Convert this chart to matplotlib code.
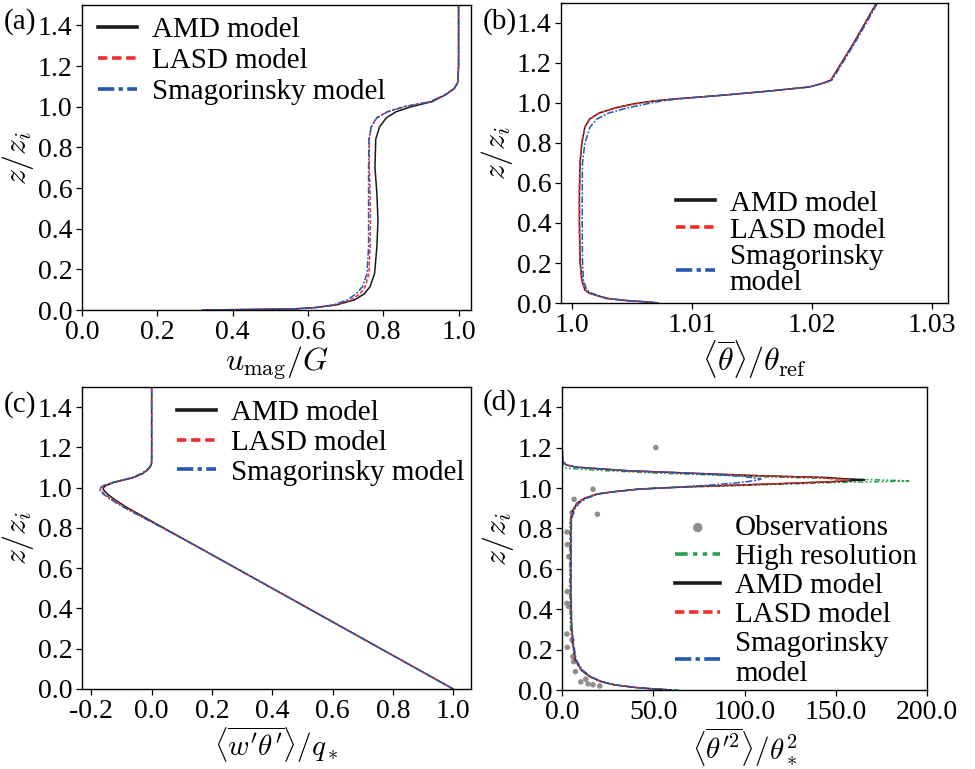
import matplotlib
matplotlib.use("Agg")
import matplotlib.pyplot as plt

plt.rcParams['font.family'] = ['Liberation Serif', 'DejaVu Serif']
plt.rcParams['mathtext.fontset'] = 'cm'

# ---------------- data ----------------
# (a) velocity magnitude
z_a = [0.0, 0.002, 0.004, 0.006, 0.012, 0.025, 0.05, 0.08, 0.115, 0.18, 0.31, 0.44, 0.575, 0.70,
       0.84, 0.90, 0.945, 0.975, 1.0, 1.025, 1.06, 1.09, 1.12, 1.2, 1.5]
u_amd = [0.32, 0.42, 0.50, 0.57, 0.62, 0.675, 0.724, 0.750, 0.765, 0.777, 0.783, 0.786, 0.783, 0.778,
         0.780, 0.790, 0.808, 0.834, 0.875, 0.930, 0.967, 0.989, 0.998, 1.0, 1.0]
u_lasd = [0.32, 0.42, 0.50, 0.57, 0.62, 0.672, 0.715, 0.738, 0.752, 0.762, 0.765, 0.766, 0.765, 0.763,
          0.763, 0.768, 0.782, 0.810, 0.855, 0.925, 0.965, 0.988, 0.998, 1.0, 1.0]
u_smag = [0.32, 0.42, 0.50, 0.57, 0.62, 0.668, 0.705, 0.728, 0.745, 0.757, 0.761, 0.761, 0.761, 0.761,
          0.762, 0.768, 0.783, 0.812, 0.857, 0.926, 0.966, 0.989, 0.998, 1.0, 1.0]

# (b) mean potential temperature
z_b = [0.0, 0.004, 0.012, 0.023, 0.048, 0.065, 0.115, 0.21, 0.40, 0.55, 0.70, 0.80, 0.88, 0.92,
       0.95, 0.975, 0.99, 1.0, 1.01, 1.02, 1.04, 1.06, 1.08, 1.10, 1.115, 1.3, 1.5, 1.6]
th_amd = [1.0072, 1.0066, 1.0046, 1.0029, 1.0015, 1.0011, 1.00085, 1.0007, 1.00065, 1.00065, 1.0007,
          1.00085, 1.0011, 1.0015, 1.0023, 1.0036, 1.0047, 1.0056, 1.0068, 1.0085, 1.0128, 1.0165,
          1.0198, 1.0210, 1.0216, 1.0235, 1.0254, 1.0263]
th_lasd = [1.0072, 1.0066, 1.0046, 1.0029, 1.0015, 1.0011, 1.00083, 1.00068, 1.00063, 1.00063, 1.00068,
           1.00083, 1.0011, 1.0015, 1.0023, 1.0037, 1.0048, 1.0057, 1.0069, 1.0086, 1.0128, 1.0165,
           1.0198, 1.0210, 1.0216, 1.0235, 1.0254, 1.0263]
th_smag = [1.0072, 1.0066, 1.0046, 1.0030, 1.0017, 1.00125, 1.00098, 1.0009, 1.00088, 1.00088, 1.0009,
           1.0011, 1.00153, 1.0021, 1.0031, 1.0046, 1.0058, 1.0066, 1.0075, 1.0088, 1.0128, 1.0165,
           1.0197, 1.0211, 1.0217, 1.0236, 1.0255, 1.0264]

# (c) heat flux
z_c = [0.0, 0.1, 0.2, 0.3, 0.4, 0.5, 0.6, 0.7, 0.8, 0.85, 0.9, 0.94, 0.97, 0.99, 1.0, 1.01, 1.025,
       1.05, 1.07, 1.085, 1.1, 1.115, 1.13, 1.5]
wt_amd = [1.0, 0.88, 0.76, 0.64, 0.52, 0.40, 0.28, 0.16, 0.04, -0.02, -0.08, -0.122, -0.148, -0.16,
          -0.16, -0.152, -0.127, -0.06, -0.03, -0.016, -0.006, -0.001, 0.0, 0.0]
wt_lasd = [1.0, 0.88, 0.76, 0.64, 0.52, 0.40, 0.28, 0.16, 0.038, -0.024, -0.085, -0.13, -0.158, -0.17,
           -0.168, -0.158, -0.13, -0.062, -0.032, -0.017, -0.007, -0.001, 0.0, 0.0]
wt_smag = [1.0, 0.88, 0.76, 0.64, 0.52, 0.40, 0.28, 0.16, 0.036, -0.027, -0.09, -0.135, -0.162, -0.172,
           -0.17, -0.16, -0.133, -0.066, -0.035, -0.019, -0.008, -0.002, 0.0, 0.0]

# (d) temperature variance
z_d = [0.0, 0.005, 0.011, 0.025, 0.041, 0.066, 0.099, 0.149, 0.231, 0.314, 0.50, 0.66, 0.84, 0.89,
       0.925, 0.949, 0.971, 0.982, 0.994, 1.0, 1.007, 1.015, 1.024, 1.032, 1.038, 1.041, 1.045, 1.052,
       1.061, 1.073, 1.086, 1.103, 1.114, 1.131, 1.2, 1.5]
tv_amd = [60, 50.8, 41.7, 28.9, 21.6, 15.2, 10.6, 7.3, 6.0, 5.2, 4.8, 4.8, 4.9, 6.0, 8.4, 12.4, 19.7,
          28.9, 41.7, 55, 72, 98, 127, 150, 163, 166, 156, 145, 108, 72, 35, 8, 2.4, 0.4, 0.1, 0.0]
tv_lasd = [60, 50.8, 41.7, 28.9, 21.6, 15.2, 10.6, 7.3, 5.8, 5.0, 4.6, 4.6, 4.7, 5.8, 8.2, 12.2, 19.5,
           28.7, 41.5, 55, 72, 98, 127, 148, 155, 157, 150, 140, 106, 71, 35, 8, 2.4, 0.4, 0.1, 0.0]
tv_smag = [60, 50.8, 41.7, 29.5, 22, 15.8, 11.2, 7.8, 6.3, 5.4, 5.0, 5.0, 5.2, 6.6, 9.3, 13.5, 20.5,
           29.5, 42, 54, 68, 82, 94, 102, 106, 108, 109, 104, 95, 70, 35, 8, 2.4, 0.4, 0.1, 0.0]
z_hr = [0.0, 0.005, 0.011, 0.025, 0.041, 0.066, 0.099, 0.149, 0.231, 0.314, 0.50, 0.66, 0.84, 0.89,
        0.925, 0.949, 0.971, 0.982, 0.994, 1.0, 1.010, 1.018, 1.026, 1.031, 1.034, 1.037, 1.043, 1.056,
        1.073, 1.085, 1.093, 1.098, 1.11, 1.13, 1.2, 1.5]
tv_hr = [64, 52, 42, 29, 21.6, 15, 10.3, 7.0, 5.6, 4.6, 4.2, 4.2, 4.4, 5.6, 8.0, 12.2, 19.5, 28.5, 41,
         50, 90, 120, 145, 172, 190, 185, 163, 108, 54, 25, 10, 2.4, 0.8, 0.2, 0.1, 0.0]
obs_tv = [51.4, 17.0, 19.4, 6.6, 5.5, 2.7, 2.9, 3.7, 2.9, 2.7, 3.7, 2.7, 2.9, 5.5, 6.0, 6.4, 7.3,
          10.3, 13.0, 14.3, 17.0, 20.7]
obs_z = [1.2, 0.994, 0.870, 0.944, 0.878, 0.782, 0.72, 0.66, 0.487, 0.429, 0.413, 0.277, 0.211, 0.248,
         0.165, 0.14, 0.091, 0.04, 0.053, 0.030, 0.026, 0.020]

yticks = [0.0, 0.2, 0.4, 0.6, 0.8, 1.0, 1.2, 1.4]
ytick_labels = ['0.0', '0.2', '0.4', '0.6', '0.8', '1.0', '1.2', '1.4']
xticks_a = [0.0, 0.2, 0.4, 0.6, 0.8, 1.0]
xlabels_a = ['0.0', '0.2', '0.4', '0.6', '0.8', '1.0']
xticks_b = [1.0, 1.01, 1.02, 1.03]
xlabels_b = ['1.0', '1.01', '1.02', '1.03']
xticks_c = [-0.2, 0.0, 0.2, 0.4, 0.6, 0.8, 1.0]
xlabels_c = ['-0.2', '0.0', '0.2', '0.4', '0.6', '0.8', '1.0']
xticks_d = [0, 50, 100, 150, 200]
xlabels_d = ['0.0', '50.0', '100.0', '150.0', '200.0']

names = ['AMD model', 'LASD model', 'Smagorinsky model']
names_wrap = ['AMD model', 'LASD model', 'Smagorinsky\nmodel']

# ---------------- styles ----------------
C_AMD, C_LASD, C_SMAG, C_HR, C_OBS = '#1a1a1a', '#f22c2c', '#2457b0', '#25a050', '#8e8e8e'
LW = 1.1
TICK_FS, LAB_FS, LAB_FS2, LEG_FS = 20, 23, 21, 21

W, H = 975, 769
fig = plt.figure(figsize=(W / 100, H / 100), dpi=100)

def add_ax(l, r, t, b):
    return fig.add_axes([l / W, 1 - b / H, (r - l) / W, (b - t) / H])

axa = add_ax(82, 471, 5, 310)
axb = add_ax(561, 948, 3, 303)
axc = add_ax(82, 471, 387, 689)
axd = add_ax(562, 927, 387, 690)

def draw3(ax, z, a, l, s):
    ax.plot(a, z, color=C_AMD, lw=LW, ls='-', label='AMD')
    ax.plot(l, z, color=C_LASD, lw=LW, ls=(0, (2.6, 1.3)), label='LASD')
    ax.plot(s, z, color=C_SMAG, lw=LW, ls=(0, (4.5, 1.2, 1.2, 1.2)), label='Smag')

draw3(axa, z_a, u_amd, u_lasd, u_smag)
draw3(axb, z_b, th_amd, th_lasd, th_smag)
draw3(axc, z_c, wt_amd, wt_lasd, wt_smag)
obs = axd.scatter(obs_tv, obs_z, s=16, color=C_OBS, edgecolors='none', zorder=1)
hr, = axd.plot(tv_hr, z_hr, color=C_HR, lw=LW, ls=(0, (3.5, 1.5, 1.2, 1.5, 1.2, 1.5)))
draw3(axd, z_d, tv_amd, tv_lasd, tv_smag)

for ax in (axa, axb, axc, axd):
    ax.set_ylim(0, 1.5)
    ax.set_yticks(yticks)
    ax.set_yticklabels(ytick_labels)
    ax.tick_params(labelsize=TICK_FS, length=4.5, width=0.9, pad=2.5)
    ax.set_ylabel(r'$z/z_i$', fontsize=LAB_FS, labelpad=1)
    for sp in ax.spines.values():
        sp.set_linewidth(1.0)

axa.set_xlim(0, 1.033)
axa.set_xticks(xticks_a); axa.set_xticklabels(xlabels_a)
axa.set_xlabel(r'$u_{\mathrm{mag}}/G$', fontsize=LAB_FS, labelpad=0)
axb.set_xlim(0.99911, 1.03136)
axb.set_xticks(xticks_b); axb.set_xticklabels(xlabels_b)
axb.set_xlabel(r'$\langle\overline{\theta}\rangle/\theta_{\mathrm{ref}}$', fontsize=LAB_FS, labelpad=0)
axc.set_xlim(-0.231, 1.059)
axc.set_xticks(xticks_c); axc.set_xticklabels(xlabels_c)
axc.set_xlabel(r'$\langle\overline{w^\prime\theta^\prime}\rangle/q_*$', fontsize=LAB_FS2, labelpad=0.5)
axd.set_xlim(0, 200)
axd.set_xticks(xticks_d); axd.set_xticklabels(xlabels_d)
axd.set_xlabel(r'$\langle\overline{\theta^{\prime 2}}\rangle/\theta_*^2$', fontsize=LAB_FS2, labelpad=0.5)

def fix_leg(leg):
    for ln in leg.get_lines():
        ln.set_linewidth(2.6)

kw = dict(frameon=False, fontsize=LEG_FS, handlelength=1.35, handletextpad=0.5,
          borderpad=0.0, borderaxespad=0.0)

la = axa.get_lines()
leg = axa.legend(la, names, loc='upper left', bbox_to_anchor=(0.041, 0.962),
                 labelspacing=0.16, **kw)
fix_leg(leg)
lb = axb.get_lines()
leg = axb.legend(lb, names_wrap, loc='lower left', bbox_to_anchor=(0.296, 0.023),
                 labelspacing=0.02, **kw)
fix_leg(leg)
for t in leg.get_texts():
    t.set_linespacing(1.0)
lc = axc.get_lines()
leg = axc.legend(lc, names, loc='upper left', bbox_to_anchor=(0.244, 0.957),
                 labelspacing=0.11, **kw)
fix_leg(leg)
ld = axd.get_lines()
leg = axd.legend([obs, hr] + ld[1:], ['Observations', 'High resolution'] + names_wrap,
                 loc='lower left', bbox_to_anchor=(0.31, 0.01), markerscale=1.7,
                 labelspacing=0.09, **dict(kw, handlelength=1.55))
fix_leg(leg)

for txt, x, y in [('(a)', 4, 22), ('(b)', 483, 22), ('(c)', 4, 405), ('(d)', 483, 403)]:
    fig.text(x / W, 1 - y / H, txt, fontsize=21, ha='left', va='center')

fig.savefig('out.png', dpi=100)
